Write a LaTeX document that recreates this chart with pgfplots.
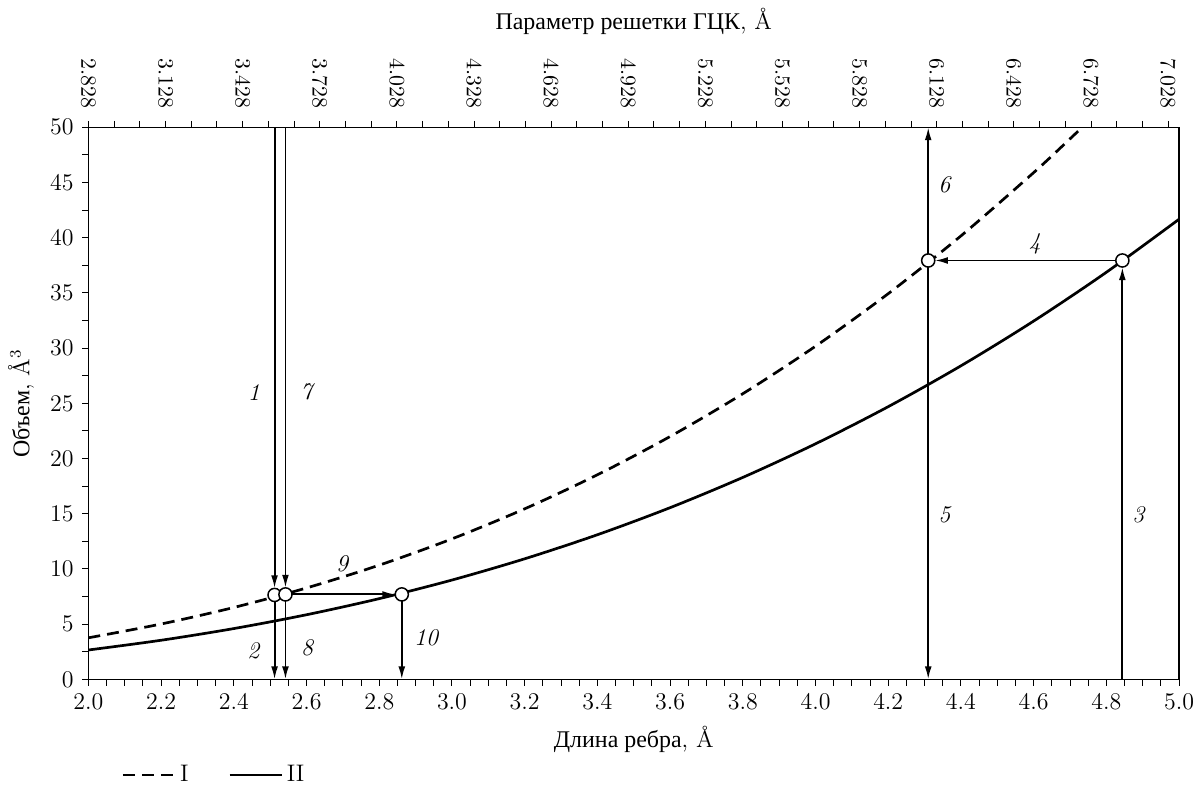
\documentclass[12pt,border=0pt]{standalone}
\usepackage{fontspec}
\usepackage{pgfplots}
\pgfplotsset{compat=1.18}
\usetikzlibrary{arrows.meta}
\newfontfamily\cyr{Liberation Serif}
\begin{document}
\begin{tikzpicture}
\pgfplotsset{
  arr/.style={black, line width=0.95pt, -{Latex[length=6.5pt,width=3.4pt]}, forget plot},
  circ/.style={only marks, mark=*, mark size=3.3pt, mark options={fill=white, draw=black, line width=0.75pt}, forget plot},
}
\begin{axis}[
  scale only axis, width=547pt, height=277pt,
  xmin=2, xmax=5, ymin=0, ymax=50,
  xtick={2.0,2.2,2.4,2.6,2.8,3.0,3.2,3.4,3.6,3.8,4.0,4.2,4.4,4.6,4.8,5.0},
  xticklabel style={/pgf/number format/.cd, fixed, fixed zerofill, precision=1},
  minor x tick num=3,
  ytick={0,5,10,15,20,25,30,35,40,45,50},
  minor y tick num=1,
  tick pos=left, tick align=outside,
  major tick length=3.2pt, minor tick length=3.2pt,
  every tick/.style={black, line width=0.5pt},
  axis line style={line width=0.6pt},
  xlabel={{\cyr Длина ребра}, Å},
  ylabel={{\cyr Объем}, Å$^3$},
  legend style={draw=none, fill=none, inner sep=0pt, at={(0.03,-0.173)}, anchor=west, legend columns=2,
    /tikz/every even column/.append style={column sep=18pt}},
  legend image code/.code={\draw[#1] (0pt,0pt) -- (26pt,0pt);},
]
\addplot[black, line width=1.35pt, dash pattern=on 6pt off 3.5pt, smooth] coordinates {
(2.0,3.771) (2.2,5.020) (2.4,6.517) (2.6,8.285) (2.8,10.348) (3.0,12.728)
(3.2,15.447) (3.4,18.528) (3.6,21.994) (3.8,25.867) (4.0,30.170) (4.2,34.926)
(4.4,40.156) (4.6,45.885) (4.7,48.943) (4.733,49.98)};
\addlegendentry{I}
\addplot[black, line width=1.35pt, smooth] coordinates {
(2.0,2.667) (2.2,3.549) (2.4,4.608) (2.6,5.859) (2.8,7.317) (3.0,9.000)
(3.2,10.923) (3.4,13.101) (3.6,15.552) (3.8,18.291) (4.0,21.333) (4.2,24.696)
(4.4,28.395) (4.6,32.445) (4.8,36.864) (5.0,41.667)};
\addlegendentry{II}
% arrows
\addplot[arr, shorten >=3.3pt] coordinates {(2.512,50) (2.512,7.65)};
\addplot[arr, shorten <=3.3pt] coordinates {(2.512,7.65) (2.512,0)};
\addplot[arr, shorten >=3.3pt] coordinates {(2.542,50) (2.542,7.7)};
\addplot[arr, shorten <=3.3pt] coordinates {(2.542,7.7) (2.542,0)};
\addplot[arr, shorten <=3.3pt, shorten >=3.3pt] coordinates {(2.542,7.7) (2.862,7.7)};
\addplot[arr, shorten <=3.3pt] coordinates {(2.862,7.7) (2.862,0)};
\addplot[arr, shorten >=3.3pt] coordinates {(4.844,0) (4.844,37.93)};
\addplot[arr, shorten <=3.3pt, shorten >=3.3pt] coordinates {(4.844,37.93) (4.310,37.93)};
\addplot[arr, shorten <=3.3pt] coordinates {(4.310,37.93) (4.310,0)};
\addplot[arr, shorten <=3.3pt] coordinates {(4.310,37.93) (4.310,50)};
\addplot[circ] coordinates {(2.512,7.65) (2.542,7.7) (2.862,7.7) (4.310,37.93) (4.844,37.93)};
% labels
\node at (axis cs:2.455,26.0) {\textit{1}};
\node at (axis cs:2.603,26.0) {\textit{7}};
\node at (axis cs:2.455,2.6) {\textit{2}};
\node at (axis cs:2.603,2.9) {\textit{8}};
\node at (axis cs:2.699,10.5) {\textit{9}};
\node at (axis cs:2.93,3.8) {\textit{10}};
\node at (axis cs:4.356,14.9) {\textit{5}};
\node at (axis cs:4.890,14.9) {\textit{3}};
\node at (axis cs:4.356,44.8) {\textit{6}};
\node at (axis cs:4.603,39.4) {\textit{4}};
\end{axis}
\begin{axis}[
  scale only axis, width=547pt, height=277pt,
  xmin=2.828, xmax=7.07064, ymin=0, ymax=50,
  axis x line*=top, axis y line=none,
  xtick={2.828,3.128,3.428,3.728,4.028,4.328,4.628,4.928,5.228,5.528,5.828,6.128,6.428,6.728,7.028},
  xticklabels={2.828,3.128,3.428,3.728,4.028,4.328,4.628,4.928,5.228,5.528,5.828,6.128,6.428,6.728,7.028},
  minor x tick num=2,
  xticklabel style={rotate=-90, anchor=east, font=\small},
  xticklabel shift=2pt,
  tick align=outside,
  major tick length=3.2pt, minor tick length=3.2pt,
  every tick/.style={black, line width=0.5pt},
  axis line style={line width=0.6pt},
  xlabel={{\cyr Параметр решетки ГЦК}, Å},
  xlabel style={yshift=4pt},
]
\addplot[draw=none] coordinates {(3,0)};
\end{axis}
\end{tikzpicture}
\end{document}
